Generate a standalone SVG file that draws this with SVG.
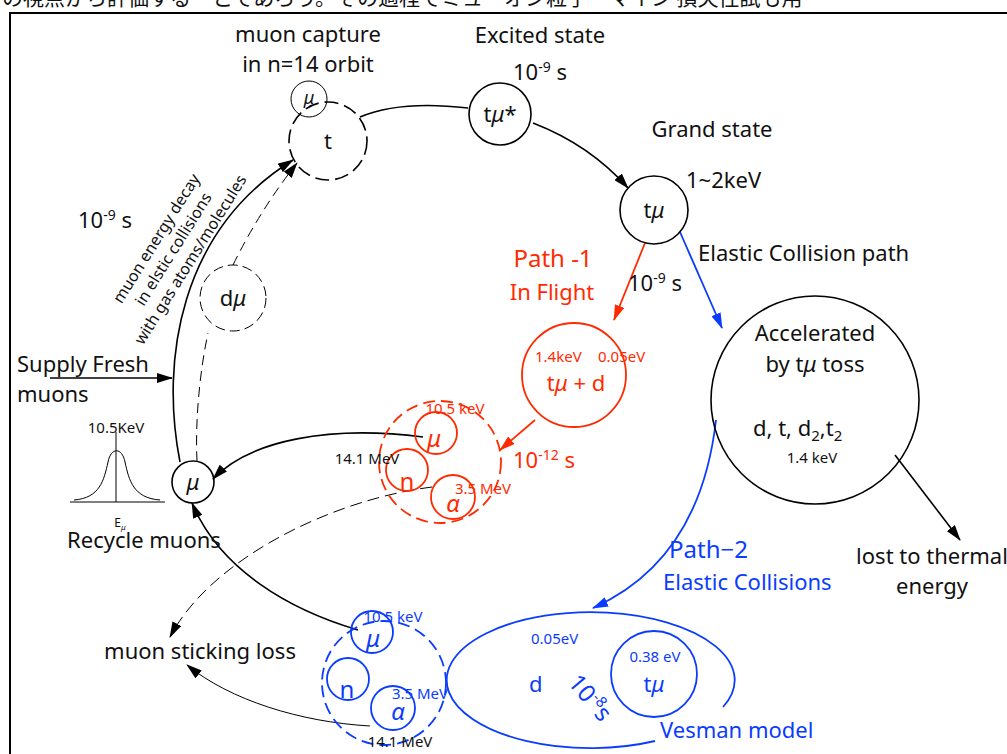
<svg xmlns="http://www.w3.org/2000/svg" width="1007" height="754" viewBox="0 0 1007 754">
<style>
text{font-family:"Noto Sans","Open Sans","Noto Sans CJK JP",sans-serif;fill:#111}
.k{fill:none;stroke:#000;stroke-width:1.6}
.thin{fill:none;stroke:#000;stroke-width:1}
.r{fill:none;stroke:#ff2a00;stroke-width:1.8}
.b{fill:none;stroke:#0a3cff;stroke-width:1.8}
.rt{fill:#ff2a00}
.bt{fill:#0a3cff}
.t20{font-size:22px}
.t14{font-size:15px}
.m{text-anchor:middle}
.it{font-style:italic}
</style>
<defs>
<marker id="ak" markerWidth="16" markerHeight="10" refX="15" refY="5" orient="auto" markerUnits="userSpaceOnUse"><path d="M0,0 L16,5 L0,10 Z" fill="#000"/></marker>
<marker id="ar" markerWidth="16" markerHeight="10" refX="15" refY="5" orient="auto" markerUnits="userSpaceOnUse"><path d="M0,0 L16,5 L0,10 Z" fill="#ff2a00"/></marker>
<marker id="ab" markerWidth="16" markerHeight="10" refX="15" refY="5" orient="auto" markerUnits="userSpaceOnUse"><path d="M0,0 L16,5 L0,10 Z" fill="#0a3cff"/></marker>
</defs>
<rect width="1007" height="754" fill="#fff"/>
<text x="2" y="5" style="font-family:'Noto Sans CJK JP',sans-serif;font-size:21px">の視点から評価するーとであろう。その過程でミューオン粒子ーマイン 損失性試も用</text>
<path d="M10,754 V13 H1007" fill="none" stroke="#000" stroke-width="2"/>

<g id="connectors">
<path class="k" d="M360,117 Q400,100 468,108"/>
<path class="k" d="M533,123 Q590,145 628,188" marker-end="url(#ak)"/>
<path class="r" d="M645,243 L614,320" marker-end="url(#ar)"/>
<path class="b" d="M680,232 L722,328" marker-end="url(#ab)"/>
<path class="b" d="M716,420 Q700,560 593,608" marker-end="url(#ab)"/>
<path class="k" d="M895,455 L960,540" marker-end="url(#ak)"/>
<path class="r" d="M535,420 L500,450" marker-end="url(#ar)"/>
<path class="k" d="M180,462 C160,360 180,230 293,160" marker-end="url(#ak)"/>
<path class="thin" d="M197,461 C195,420 200,370 208,333" stroke-dasharray="10,6"/>
<path class="thin" d="M233,265 Q260,210 297,163" stroke-dasharray="10,6" marker-end="url(#ak)"/>
<path class="k" d="M50,378 L172,378" marker-end="url(#ak)"/>
<path class="k" d="M423,437 C330,425 250,440 213,479" marker-end="url(#ak)"/>
<path class="k" d="M358,630 C290,610 220,570 192,503" marker-end="url(#ak)"/>
<path class="thin" d="M432,487 C330,500 210,560 170,637" stroke-dasharray="12,6" marker-end="url(#ak)"/>
<path class="thin" d="M370,726 C300,722 230,700 187,665" marker-end="url(#ak)"/>
</g>

<g id="capture-label"><text class="t20 m" x="308" y="42">muon capture</text><text class="t20 m" x="308" y="72">in n=14 orbit</text></g>
<g id="mu-small"><circle cx="309" cy="99" r="18" class="thin"/><text class="m it" x="309" y="104" style="font-size:18px">μ</text></g>
<g id="t-node"><circle cx="328" cy="141" r="39" class="k" stroke-dasharray="14,6"/><text class="t20 m" x="328" y="149">t</text></g>
<g id="excited"><text class="t20 m" x="540" y="43">Excited state</text><text class="t20 m" x="540" y="80">10<tspan dy="-8" style="font-size:14px">-9</tspan><tspan dy="8"> s</tspan></text>
<circle cx="500" cy="114" r="31" class="k"/><text class="t20 m" x="500" y="122">t<tspan class="it">μ</tspan>*</text></g>
<g id="grand"><text class="t20 m" x="712" y="137">Grand state</text><text class="t20" x="686" y="188">1~2keV</text>
<circle cx="654" cy="210" r="34" class="k"/><text class="t20 m" x="654" y="218">t<tspan class="it">μ</tspan></text></g>
<g id="elastic-label"><text class="t20" x="698" y="261">Elastic Collision path</text></g>
<g id="path1"><text class="m rt" x="553" y="267" style="font-size:24px">Path -1</text><text class="t20 m rt" x="552" y="300">In Flight</text>
<text class="t20" x="628" y="291">10<tspan dy="-8" style="font-size:14px">-9</tspan><tspan dy="8"> s</tspan></text></g>
<g id="tmu-d"><circle cx="574" cy="375" r="52" class="r"/><text class="t14 rt" x="535" y="362">1.4keV</text><text class="t14 rt" x="598" y="362">0.05eV</text><text class="t20 m rt" x="576" y="391">t<tspan class="it">μ</tspan> + d</text></g>
<g id="accelerated"><circle cx="815" cy="400" r="104" class="k"/><text class="t20 m" x="815" y="341">Accelerated</text><text class="t20 m" x="815" y="372">by t<tspan class="it">μ</tspan> toss</text>
<text class="t20" x="753" y="436">d, t, d<tspan dy="5" style="font-size:15px">2</tspan><tspan dy="-5">,t</tspan><tspan dy="5" style="font-size:15px">2</tspan></text><text class="t14 m" x="812" y="463">1.4 keV</text></g>
<g id="thermal"><text class="t20 m" x="932" y="564">lost to thermal</text><text class="t20 m" x="932" y="594">energy</text></g>
<g id="path2"><text class="bt" x="669" y="558" style="font-size:24px">Path−2</text><text class="t20 bt" x="663" y="590">Elastic Collisions</text></g>
<g id="vesman"><path class="b" d="M723,707 A144,68 0 1 0 655,741"/><circle cx="654" cy="674" r="43" class="b"/>
<text class="t14 bt" x="531" y="644">0.05eV</text><text class="t20 bt" x="529" y="692">d</text>
<text class="bt" x="0" y="0" transform="translate(567,683) rotate(50)" style="font-size:24px">10<tspan dy="-9" style="font-size:15px">-8</tspan><tspan dy="9">s</tspan></text>
<text class="t14 bt m" x="655" y="662">0.38 eV</text><text class="t20 bt m" x="654" y="692">t<tspan class="it">μ</tspan></text>
<text class="t20 bt" x="660" y="738">Vesman model</text></g>
<g id="blue-cluster"><circle cx="384" cy="683" r="62" class="b" stroke-width="1.1" stroke-dasharray="12,6"/>
<circle cx="372" cy="632" r="21" class="b"/><circle cx="348" cy="679" r="21" class="b"/><circle cx="393" cy="708" r="22" class="b"/>
<text class="bt m it" x="373" y="647" style="font-size:24px">μ</text><text class="bt m" x="347" y="698" style="font-size:24px">n</text><text class="bt m it" x="398" y="720" style="font-size:24px">α</text>
<text class="t14 bt m" x="393" y="622">10.5 keV</text><text class="t14 bt m" x="420" y="699">3.5 MeV</text><text class="t14 m" x="400" y="747">14.1 MeV</text></g>
<g id="red-cluster"><circle cx="440" cy="462" r="61" class="r" stroke-width="1.1" stroke-dasharray="12,6"/>
<circle cx="436" cy="433" r="21" class="r"/><circle cx="407" cy="470" r="21" class="r"/><circle cx="453" cy="497" r="22" class="r"/>
<text class="rt m it" x="434" y="447" style="font-size:24px">μ</text><text class="rt m" x="407" y="490" style="font-size:24px">n</text><text class="rt m it" x="453" y="512" style="font-size:24px">α</text>
<text class="t14 rt m" x="455" y="414">10.5 keV</text><text class="t14 rt m" x="483" y="494">3.5 MeV</text><text class="t14 m" x="367" y="464">14.1 MeV</text>
<text class="t20 rt" x="513" y="468">10<tspan dy="-8" style="font-size:14px">-12</tspan><tspan dy="8"> s</tspan></text></g>
<g id="du"><circle cx="233" cy="298" r="33" class="thin" stroke-dasharray="10,5"/><text class="t20 m" x="233" y="306">d<tspan class="it">μ</tspan></text></g>
<g id="decay-label">
<text class="m" style="font-size:16px" transform="translate(178,252) rotate(-58)" x="0" y="-20">muon energy decay</text>
<text class="m" style="font-size:16px" transform="translate(178,252) rotate(-58)" x="0" y="0">in elstic collisions</text>
<text class="m" style="font-size:16px" transform="translate(178,252) rotate(-58)" x="0" y="20">with gas atoms/molecules</text>
<text class="t20" x="78" y="228">10<tspan dy="-8" style="font-size:14px">-9</tspan><tspan dy="8"> s</tspan></text></g>
<g id="supply"><text class="t20" x="17" y="372">Supply Fresh</text><text class="t20" x="17" y="402">muons</text></g>
<g id="recycle-mu"><circle cx="193" cy="482" r="21" class="k"/><text class="t20 m it" x="193" y="490">μ</text><text class="t20 m" x="144" y="548">Recycle muons</text></g>
<g id="gauss"><path class="thin" d="M70,502 H165 M116,432 V502"/><path class="thin" d="M74,500 C100,498 104,480 108,462 C111,447 122,447 125,462 C129,480 133,498 160,500"/>
<text class="t14 m" x="116" y="433">10.5KeV</text><text class="m" x="120" y="527" style="font-size:12px">E<tspan dy="3" style="font-size:8px" class="it">μ</tspan></text></g>
<g id="sticking"><text class="t20 m" x="200" y="659">muon sticking loss</text></g>
</svg>
